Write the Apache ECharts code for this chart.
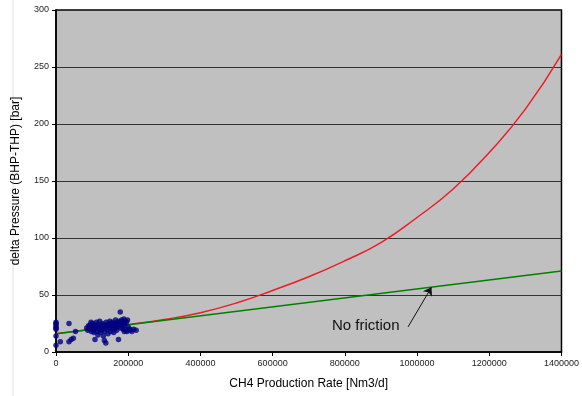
<!DOCTYPE html>
<html>
<head>
<meta charset="utf-8">
<script src="https://cdn.jsdelivr.net/npm/echarts@6/dist/echarts.min.js"></script>
<style>
  html, body { margin: 0; padding: 0; background: #fff; }
  #chart { width: 582px; height: 396px; }
</style>
</head>
<body>
<div id="chart"></div>
<script>
// Measured field data: [rate Nm3/d, delta pressure bar]
const measured = [
  [0,26],[0,24],[0,22],[0,20],[0,14],[0,6],[0,25],[0,21],
  [12000,9],[36000,25],[36000,9],[42000,11],[48000,12],[54000,18],
  [85000,21],[88000,19],[90000,23],[93000,20],[95000,24],[97000,26],[98000,18],[100000,22],
  [102000,25],[104000,20],[105000,17],[107000,23],[108000,11],[110000,21],[112000,26],[113000,18],
  [115000,24],[116000,15],[118000,22],[120000,20],[121000,27],[123000,17],[125000,23],[126000,19],
  [128000,25],[130000,21],[131000,14],[133000,24],[134000,10],[135000,18],[137000,22],[138000,8],
  [139000,26],[141000,20],[143000,23],[144000,16],[146000,25],[148000,21],[149000,27],[151000,18],
  [152000,24],[154000,22],[156000,26],[157000,20],[159000,23],[160000,17],[162000,25],[164000,21],
  [165000,28],[167000,24],[168000,19],[170000,26],[172000,22],[173000,11],[175000,27],[176000,24],
  [178000,35],[179000,21],[180000,25],[182000,28],[183000,23],[185000,26],[186000,20],[188000,29],
  [189000,18],[190000,24],[192000,27],[193000,20],[195000,26],[196000,18],[198000,28],[200000,22],
  [202000,19],[205000,20],[210000,18],[215000,20],[222000,19]
];

// Model with friction
const frictionRates = [0,100000,200000,300000,400000,500000,600000,700000,800000,900000,1000000,1100000,1200000,1300000,1400000];
const frictionDP    = [16,20,24,28.5,34.5,43,54,66,80,96,118,143,175,213,261];

// Model without friction (straight line)
const noFrictionRates = [0,1400000];
const noFrictionDP    = [16,71];

// Axis ticks
const xTicks = { min: 0, max: 1400000, step: 200000 };
const yTicks = { min: 0, max: 300, step: 50 };

// Annotation arrow: from label to the no-friction line
const arrowFrom = [975000, 22];
const arrowTo   = [1040000, 16 + 55 * 1040000 / 1400000];

const zip = (xs, ys) => xs.map((x, i) => [x, ys[i]]);

const chart = echarts.init(document.getElementById('chart'), null, { renderer: 'canvas' });
const font = 'Liberation Sans, Arial, sans-serif';

chart.setOption({
  animation: false,
  backgroundColor: '#ffffff',
  grid: { left: 56, right: 19, top: 10, bottom: 44, show: true, backgroundColor: '#c0c0c0', borderColor: '#000', borderWidth: 1.5 },
  xAxis: {
    type: 'value', min: xTicks.min, max: xTicks.max, interval: xTicks.step,
    name: 'CH4 Production Rate [Nm3/d]', nameLocation: 'middle', nameGap: 26,
    nameTextStyle: { fontFamily: font, fontSize: 12, color: '#000' },
    axisLine: { lineStyle: { color: '#000', width: 1.5 } },
    axisTick: { show: true, length: 4, lineStyle: { color: '#000' } },
    axisLabel: { fontFamily: font, fontSize: 9, color: '#222', margin: 7, formatter: v => String(v) },
    splitLine: { show: false }
  },
  yAxis: {
    type: 'value', min: yTicks.min, max: yTicks.max, interval: yTicks.step,
    name: 'delta Pressure (BHP-THP) [bar]', nameLocation: 'middle', nameGap: 34,
    nameTextStyle: { fontFamily: font, fontSize: 12, color: '#000' },
    axisLine: { show: true, lineStyle: { color: '#000', width: 1.5 } },
    axisTick: { show: true, length: 4, lineStyle: { color: '#000' } },
    axisLabel: { fontFamily: font, fontSize: 9, color: '#222', margin: 7, formatter: v => String(v) },
    splitLine: { show: true, lineStyle: { color: '#333', width: 1 } }
  },
  series: [
    {
      name: 'friction', type: 'line', smooth: true, showSymbol: false,
      data: zip(frictionRates, frictionDP),
      lineStyle: { color: '#ee1c25', width: 1.5 }, z: 2
    },
    {
      name: 'no friction', type: 'line', showSymbol: false,
      data: zip(noFrictionRates, noFrictionDP),
      lineStyle: { color: '#008000', width: 1.5 }, z: 3,
      markLine: {
        silent: true, symbol: ['none', 'arrow'], symbolSize: 8,
        label: { show: false },
        lineStyle: { color: '#111', width: 1, type: 'solid' },
        data: [[{ coord: arrowFrom }, { coord: arrowTo }]]
      }
    },
    {
      name: 'measured', type: 'scatter', data: measured,
      symbol: 'circle', symbolSize: 5.5,
      itemStyle: { color: '#000080' }, z: 4
    }
  ],
  graphic: [
    { type: 'line', shape: { x1: 13, y1: 0, x2: 13, y2: 396 }, style: { stroke: '#e2e2e2', lineWidth: 1 } },
    { type: 'text', left: 332, top: 318, style: { text: 'No friction', font: '15px ' + font, fill: '#111' } }
  ]
});
</script>
</body>
</html>
